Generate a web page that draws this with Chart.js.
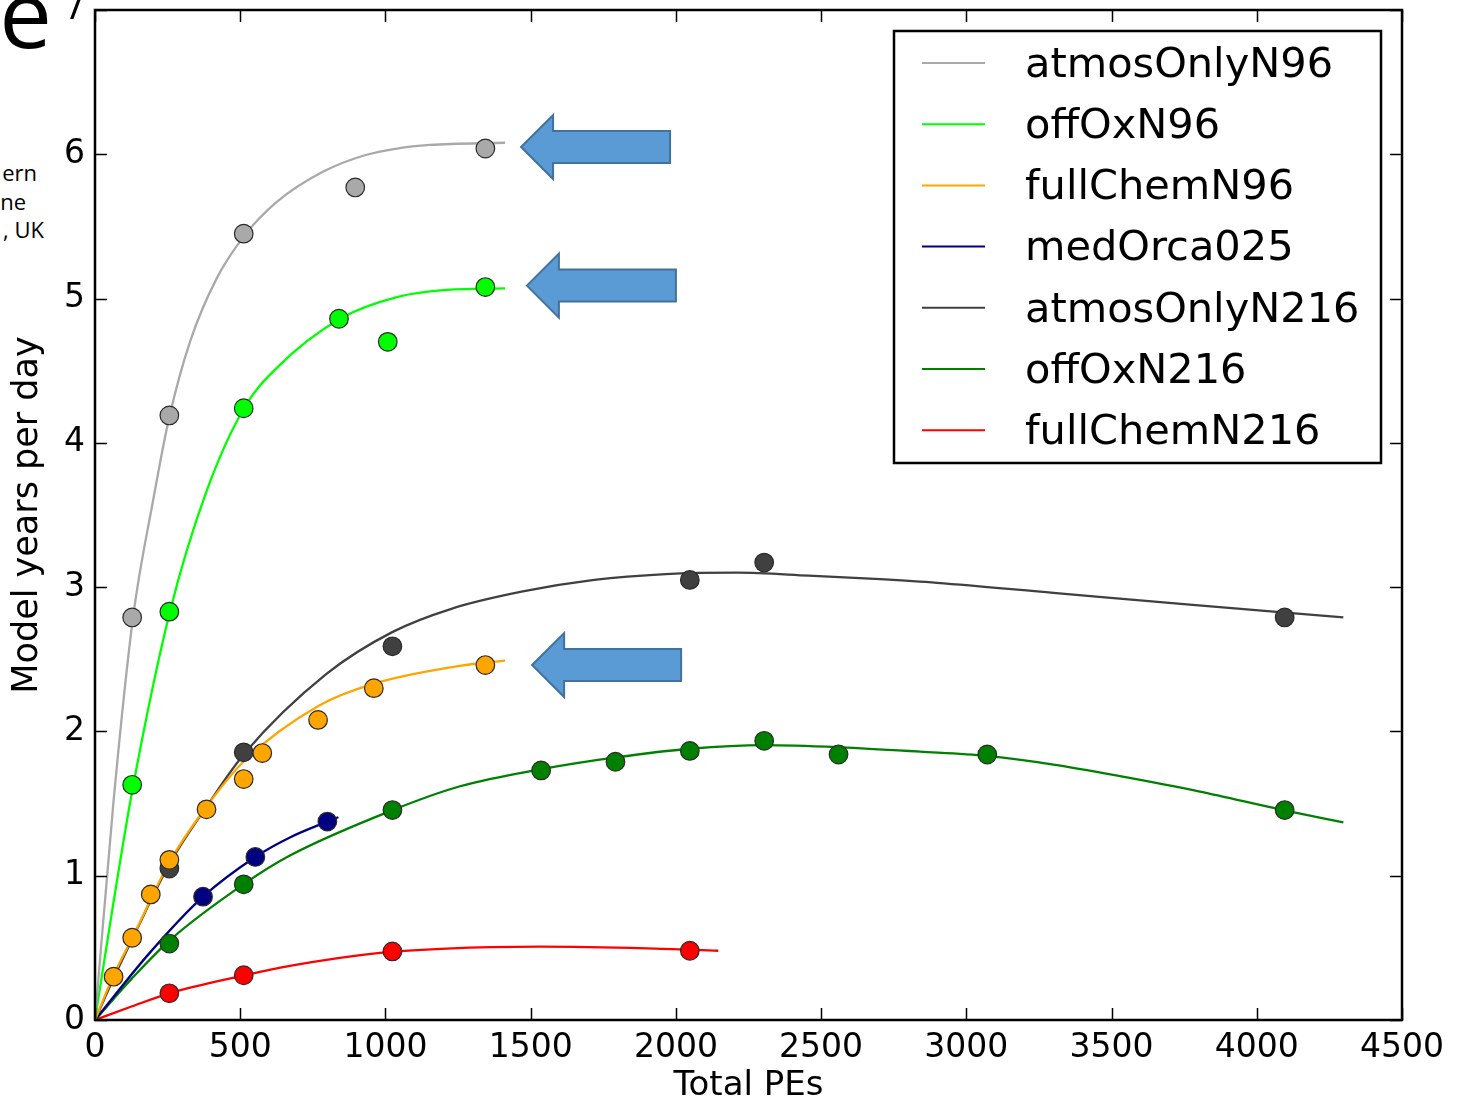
<!DOCTYPE html>
<html>
<head>
<meta charset="utf-8">
<script src="https://cdn.jsdelivr.net/npm/chart.js@4.4.1/dist/chart.umd.min.js"></script>
<style>
  html, body { margin: 0; padding: 0; background: #fff; }
  body { width: 1459px; height: 1099px; position: relative; overflow: hidden; }
  #chartPes { position: absolute; left: 0; top: -30px; }
  .slide { position: absolute; font-family: "Open Sans", sans-serif; color: #000; text-align: right; white-space: nowrap; }
</style>
</head>
<body>
<div class="slide" style="left:-200px; width:252px; top:-52px; font-size:94px;">e</div>
<div class="slide" style="left:-200px; width:237px; top:157px; font-size:22px;">ern</div>
<div class="slide" style="left:-200px; width:226px; top:186px; font-size:22px;">ne</div>
<div class="slide" style="left:-200px; width:244px; top:214px; font-size:22px;">, UK</div>
<canvas id="chartPes" width="1459" height="1140"></canvas>
<script>
// measured points
let peAtmosN96 = [128, 256, 512, 896, 1344];
let valAtmosN96 = [2.79, 4.19, 5.45, 5.77, 6.04];
let peOffOxN96 = [128, 256, 512, 840, 1008, 1344];
let valOffOxN96 = [1.63, 2.83, 4.24, 4.86, 4.70, 5.08];
let peChemN96 = [64, 128, 192, 256, 384, 512, 576, 768, 960, 1344];
let valChemN96 = [0.30, 0.57, 0.87, 1.11, 1.46, 1.67, 1.85, 2.08, 2.30, 2.46];
let peOrca = [372, 552, 800];
let valOrca = [0.855, 1.13, 1.375];
let peAtmosN216 = [256, 512, 1024, 2048, 2304, 4096];
let valAtmosN216 = [1.05, 1.855, 2.59, 3.05, 3.17, 2.79];
let peOffOxN216 = [256, 512, 1024, 1536, 1792, 2048, 2304, 2560, 3072, 4096];
let valOffOxN216 = [0.53, 0.94, 1.455, 1.73, 1.79, 1.865, 1.935, 1.84, 1.84, 1.455];
let peChemN216 = [256, 512, 1024, 2048];
let valChemN216 = [0.185, 0.31, 0.475, 0.48];

// fitted curves
let fitPeAtmosN96 = [0, 64, 131, 200, 255, 327, 419, 516, 626, 786, 923, 1039, 1153, 1412];
let fitAtmosN96 = [0, 1.52, 2.79, 3.60, 4.17, 4.70, 5.14, 5.44, 5.67, 5.88, 5.99, 6.04, 6.065, 6.08];
let fitPeOffOxN96 = [0, 64, 132, 258, 385, 516, 626, 844, 1039, 1211, 1412];
let fitOffOxN96 = [0, 0.82, 1.63, 2.83, 3.67, 4.25, 4.52, 4.86, 5.01, 5.06, 5.07];
let fitPeChemN96 = [0, 64, 131, 258, 388, 516, 772, 958, 1257, 1412];
let fitChemN96 = [0, 0.31, 0.58, 1.10, 1.49, 1.80, 2.18, 2.33, 2.455, 2.49];
let fitPeOrca = [0, 186, 372, 552, 671, 800, 838];
let fitOrca = [0, 0.46, 0.855, 1.13, 1.265, 1.375, 1.405];
let fitPeAtmosN216 = [0, 64, 128, 256, 388, 516, 798, 1025, 1227, 1473, 1719, 1965, 2211, 2457, 2703, 2899, 3300, 3759, 4298];
let fitAtmosN216 = [0, 0.29, 0.56, 1.08, 1.49, 1.85, 2.40, 2.69, 2.85, 2.97, 3.05, 3.09, 3.10, 3.08, 3.055, 3.03, 2.96, 2.88, 2.79];
let fitPeOffOxN216 = [0, 128, 258, 516, 671, 1025, 1257, 1541, 1793, 2049, 2303, 2568, 2840, 3070, 3300, 3529, 3800, 4091, 4298];
let fitOffOxN216 = [0, 0.29, 0.554, 0.947, 1.14, 1.455, 1.62, 1.74, 1.82, 1.88, 1.905, 1.89, 1.86, 1.83, 1.77, 1.69, 1.585, 1.455, 1.37];
let fitPeChemN216 = [0, 128, 256, 516, 671, 981, 1211, 1532, 1899, 2146];
let fitChemN216 = [0, 0.095, 0.185, 0.31, 0.375, 0.465, 0.495, 0.508, 0.497, 0.48];

// where the slide's blue arrows point (PEs, years/day)
let arrowTips = [[1467, 6.05], [1487, 5.09], [1505, 2.46]];

let series = [
    {label: 'atmosOnlyN96', color: '#a9a9a9', pe: peAtmosN96, val: valAtmosN96, fitPe: fitPeAtmosN96, fit: fitAtmosN96},
    {label: 'offOxN96', color: '#00ff00', pe: peOffOxN96, val: valOffOxN96, fitPe: fitPeOffOxN96, fit: fitOffOxN96},
    {label: 'fullChemN96', color: '#ffa500', pe: peChemN96, val: valChemN96, fitPe: fitPeChemN96, fit: fitChemN96},
    {label: 'medOrca025', color: '#000080', pe: peOrca, val: valOrca, fitPe: fitPeOrca, fit: fitOrca},
    {label: 'atmosOnlyN216', color: '#404040', pe: peAtmosN216, val: valAtmosN216, fitPe: fitPeAtmosN216, fit: fitAtmosN216},
    {label: 'offOxN216', color: '#008000', pe: peOffOxN216, val: valOffOxN216, fitPe: fitPeOffOxN216, fit: fitOffOxN216},
    {label: 'fullChemN216', color: '#ff0000', pe: peChemN216, val: valChemN216, fitPe: fitPeChemN216, fit: fitChemN216}
];

let zip = (xs, ys) => xs.map((x, i) => ({x: x, y: ys[i]}));

let datasets = [];
series.forEach(s => {
    datasets.push({
        label: s.label,
        data: zip(s.fitPe, s.fit),
        showLine: true,
        borderColor: s.color,
        borderWidth: 2.3,
        pointRadius: 0,
        cubicInterpolationMode: 'monotone',
        order: 2
    });
});
series.forEach(s => {
    datasets.push({
        label: s.label + ' runs',
        data: zip(s.pe, s.val),
        showLine: false,
        backgroundColor: s.color,
        borderColor: '#2a2a2a',
        borderWidth: 1.2,
        pointRadius: 9.3,
        order: 1
    });
});

// matplotlib style frame with inward ticks on every side
let frame = {
    id: 'frame',
    afterDatasetsDraw(chart) {
        let {ctx, chartArea: a, scales: {x, y}} = chart;
        ctx.save();
        ctx.strokeStyle = '#000';
        ctx.lineWidth = 1.5;
        ctx.beginPath();
        x.ticks.forEach(t => {
            let px = Math.round(x.getPixelForValue(t.value)) + 0.5;
            ctx.moveTo(px, a.bottom); ctx.lineTo(px, a.bottom - 12);
            ctx.moveTo(px, a.top); ctx.lineTo(px, a.top + 12);
        });
        y.ticks.forEach(t => {
            let py = Math.round(y.getPixelForValue(t.value)) + 0.5;
            ctx.moveTo(a.left, py); ctx.lineTo(a.left + 12, py);
            ctx.moveTo(a.right, py); ctx.lineTo(a.right - 12, py);
        });
        ctx.stroke();
        ctx.lineWidth = 2.5;
        ctx.strokeRect(a.left, a.top, a.width, a.height);
        ctx.restore();
    }
};

// legend box in the upper right corner
let boxLegend = {
    id: 'boxLegend',
    afterDraw(chart) {
        let {ctx, chartArea: a} = chart;
        let left = a.right - 508, top = a.top + 21;
        ctx.save();
        ctx.fillStyle = '#fff';
        ctx.fillRect(left, top, 487, 432);
        ctx.strokeStyle = '#000';
        ctx.lineWidth = 2.5;
        ctx.strokeRect(left, top, 487, 432);
        ctx.font = '41.5px "DejaVu Sans"';
        ctx.textBaseline = 'middle';
        series.forEach((s, i) => {
            let yy = top + 32 + i * 61.2;
            ctx.strokeStyle = s.color;
            ctx.lineWidth = 2;
            ctx.beginPath();
            ctx.moveTo(left + 28, yy);
            ctx.lineTo(left + 91, yy);
            ctx.stroke();
            ctx.fillStyle = '#000';
            ctx.fillText(s.label, left + 131, yy + 3);
        });
        ctx.restore();
    }
};

// blue block arrows pasted on the slide
let arrows = {
    id: 'arrows',
    afterDraw(chart) {
        let {ctx, scales: {x, y}} = chart;
        ctx.save();
        ctx.fillStyle = '#5b9bd5';
        ctx.strokeStyle = '#41719c';
        ctx.lineWidth = 2;
        arrowTips.forEach(tip => {
            let tx = x.getPixelForValue(tip[0]);
            let ty = y.getPixelForValue(tip[1]);
            ctx.beginPath();
            ctx.moveTo(tx, ty);
            ctx.lineTo(tx + 32, ty - 32);
            ctx.lineTo(tx + 32, ty - 16);
            ctx.lineTo(tx + 149, ty - 16);
            ctx.lineTo(tx + 149, ty + 16);
            ctx.lineTo(tx + 32, ty + 16);
            ctx.lineTo(tx + 32, ty + 32);
            ctx.closePath();
            ctx.fill();
            ctx.stroke();
        });
        ctx.restore();
    }
};

Chart.defaults.font.family = '"DejaVu Sans", sans-serif';
Chart.defaults.color = '#000';

let contextPes = document.querySelector('#chartPes').getContext('2d');

let config = {
    type: 'scatter',
    data: {datasets: datasets},
    options: {
        responsive: false,
        animation: false,
        layout: {padding: {left: 0, right: 57, top: 40, bottom: 0}},
        plugins: {
            legend: {display: false},
            tooltip: {enabled: false}
        },
        scales: {
            x: {
                type: 'linear',
                min: 0,
                max: 4500,
                grid: {display: false, drawTicks: false},
                border: {display: false},
                ticks: {stepSize: 500, padding: 9, font: {size: 33}, callback: v => String(v), maxRotation: 0},
                title: {display: true, text: 'Total PEs', font: {size: 34}, padding: {top: 0, bottom: 3}},
                afterFit: scale => { scale.height = 90; }
            },
            y: {
                min: 0,
                max: 7,
                grid: {display: false, drawTicks: false},
                border: {display: false},
                ticks: {stepSize: 1, padding: 10, font: {size: 33}, callback: v => String(v)},
                title: {display: true, text: 'Model years per day', font: {size: 35}, padding: {top: 7, bottom: 0}},
                afterFit: scale => { scale.width = 95; }
            }
        }
    },
    plugins: [frame, arrows, boxLegend]
};

let chartPes = new Chart(contextPes, config);
</script>
</body>
</html>
